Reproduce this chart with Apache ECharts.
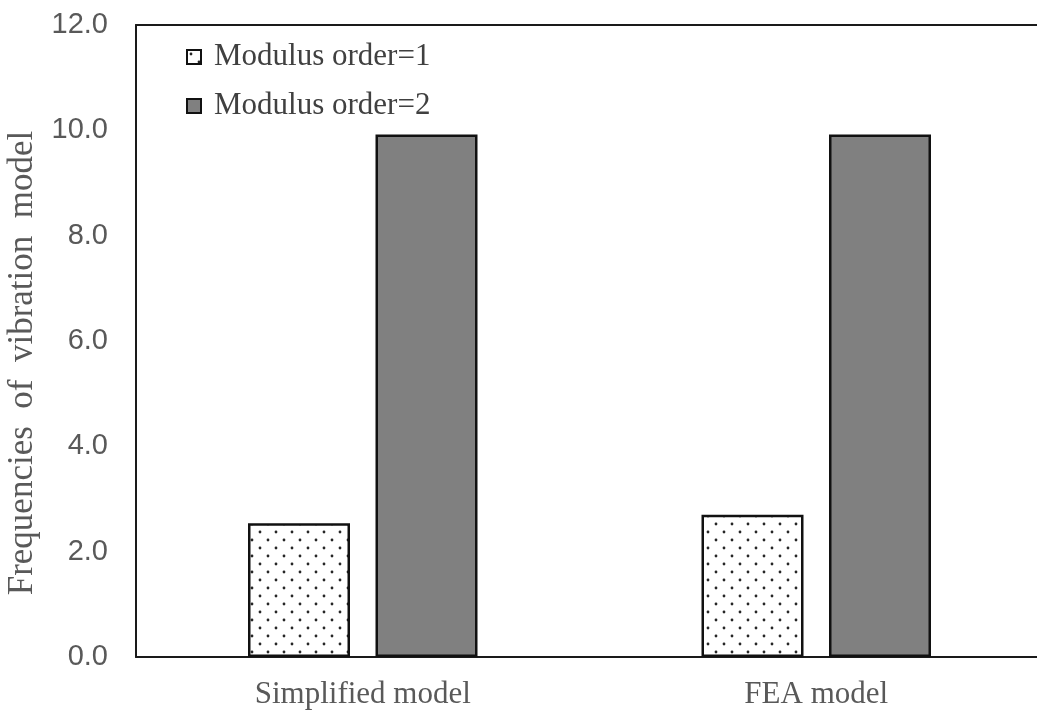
<!DOCTYPE html>
<html>
<head>
<meta charset="utf-8">
<script src="https://cdn.jsdelivr.net/npm/echarts@6/dist/echarts.min.js"></script>
<style>
  html, body { margin: 0; padding: 0; background: #fff; }
  #chart { width: 1037px; height: 716px; }
</style>
</head>
<body>
<div id="chart"></div>
<script>
// Natural frequencies for the first two modes, per model type
const categories = ['Simplified model', 'FEA model'];
const seriesNames = ['Modulus order=1', 'Modulus order=2'];
const order1 = [2.54, 2.70];
const order2 = [9.92, 9.92];
const yAxisTitle = 'Frequencies  of  vibration  model';

// Staggered dot fill used for the first-mode bars
function dotPattern() {
  const c = document.createElement('canvas');
  c.width = 16; c.height = 16;
  const g = c.getContext('2d');
  g.fillStyle = '#ffffff';
  g.fillRect(0, 0, 16, 16);
  g.fillStyle = '#262626';
  [[4, 4], [12, 12]].forEach(([x, y]) => {
    g.beginPath();
    g.arc(x, y, 1.4, 0, Math.PI * 2);
    g.fill();
  });
  return c;
}

const chart = echarts.init(document.getElementById('chart'), null, { renderer: 'canvas' });

const serif = '"Liberation Serif", "Times New Roman", serif';
const sans = '"Liberation Sans", Arial, sans-serif';

chart.setOption({
  animation: false,
  backgroundColor: '#ffffff',
  // plot area runs slightly past the right edge of the canvas
  grid: {
    left: 136, top: 25, width: 907, height: 632, show: false,
    containLabel: false, outerBoundsMode: 'none'
  },
  legend: {
    orient: 'vertical',
    left: 186, top: 40,
    padding: 0,
    itemWidth: 14, itemHeight: 14,
    itemGap: 15,
    icon: 'rect',
    textStyle: {
      fontFamily: serif, fontSize: 31, color: '#404040',
      lineHeight: 34, padding: [0, 0, 0, 8]
    },
    data: seriesNames
  },
  xAxis: [
    {
      type: 'category',
      data: categories,
      axisLine: { lineStyle: { color: '#1a1a1a', width: 2 } },
      axisTick: { show: false },
      axisLabel: { fontFamily: serif, fontSize: 31, color: '#595959', margin: 22 }
    },
    {
      // top frame line of the plot area
      type: 'category',
      position: 'top',
      data: categories,
      axisLine: { lineStyle: { color: '#1a1a1a', width: 2 } },
      axisTick: { show: false },
      axisLabel: { show: false }
    }
  ],
  yAxis: {
    type: 'value',
    min: 0, max: 12, interval: 2,
    name: yAxisTitle,
    nameLocation: 'middle',
    nameGap: 88,
    nameTextStyle: { fontFamily: serif, fontSize: 35, color: '#595959', padding: [0, 44, 0, 0] },
    axisLine: { show: true, lineStyle: { color: '#1a1a1a', width: 2 } },
    axisTick: { show: false },
    splitLine: { show: false },
    axisLabel: {
      fontFamily: sans, fontSize: 29, color: '#595959', margin: 28,
      formatter: v => v.toFixed(1)
    }
  },
  series: [
    {
      name: seriesNames[0],
      type: 'bar',
      data: order1,
      barWidth: 102,
      barGap: '25%',
      itemStyle: {
        color: { image: dotPattern(), repeat: 'repeat' },
        borderColor: '#111', borderWidth: 2.5
      }
    },
    {
      name: seriesNames[1],
      type: 'bar',
      data: order2,
      barWidth: 102,
      itemStyle: { color: '#808080', borderColor: '#111', borderWidth: 2.5 }
    }
  ]
});
</script>
</body>
</html>
